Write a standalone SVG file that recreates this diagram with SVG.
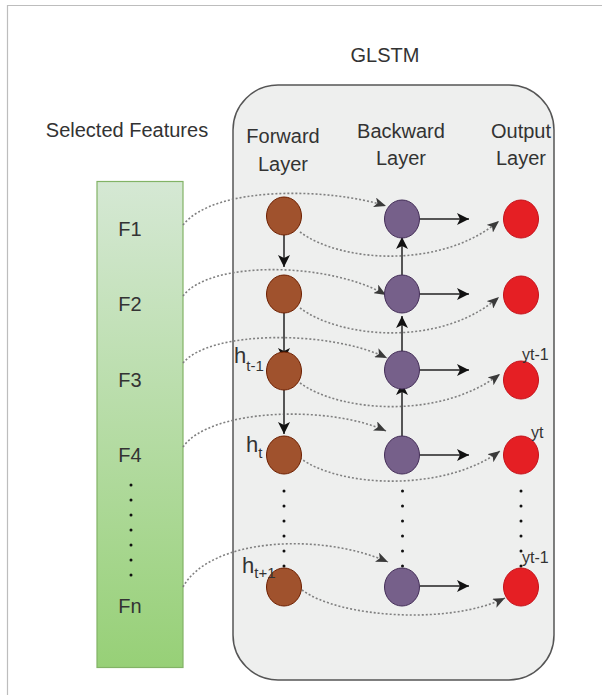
<svg xmlns="http://www.w3.org/2000/svg" width="602" height="695" viewBox="0 0 602 695">
<style>
text{font-family:"Liberation Sans",Arial,sans-serif;fill:#333;}
.t20{font-size:20px;text-anchor:middle;}
.fw{fill:#a0522d;stroke:#6d1f00;stroke-width:1;}
.bw{fill:#76608a;stroke:#432d57;stroke-width:1;}
.out{fill:#e51f24;stroke:#c4121a;stroke-width:1;}
.dotc{fill:none;stroke:#808080;stroke-width:1.6;stroke-dasharray:2 2;marker-end:url(#ah2);}
.sol{fill:none;stroke:#555;stroke-width:2;marker-end:url(#ah1);}
.vdots{stroke:#111;stroke-width:3;stroke-linecap:round;stroke-dasharray:0 15;fill:none;}
</style>
<defs>
<linearGradient id="gg" x1="0" y1="0" x2="0" y2="1">
<stop offset="0" stop-color="#d5e8d4"/>
<stop offset="1" stop-color="#97d077"/>
</linearGradient>
<marker id="ah1" viewBox="0 0 12 12" refX="12" refY="6" markerWidth="12" markerHeight="12" markerUnits="userSpaceOnUse" orient="auto">
<path d="M0,0 L12,6 L0,12 L3,6 Z" fill="#111"/>
</marker>
<marker id="ah2" viewBox="0 0 12 10" refX="12" refY="5" markerWidth="12" markerHeight="10" markerUnits="userSpaceOnUse" orient="auto">
<path d="M0,0 L12,5 L0,10 L3,5 Z" fill="#3a3a3a"/>
</marker>
</defs>

<g id="frame">
<line x1="7" y1="5.5" x2="602" y2="5.5" stroke="#bdbdbd" stroke-width="1.2"/>
<line x1="7.5" y1="5" x2="7.5" y2="695" stroke="#bdbdbd" stroke-width="1.2"/>
</g>

<g id="title">
<text class="t20" x="385" y="62">GLSTM</text>
</g>

<g id="glstm-box">
<rect x="233" y="85" width="321" height="595" rx="45" ry="45" fill="#eeefee" stroke="#555" stroke-width="1.5"/>
<text class="t20" x="283" y="143">Forward</text>
<text class="t20" x="283" y="171">Layer</text>
<text class="t20" x="401" y="138">Backward</text>
<text class="t20" x="401" y="165">Layer</text>
<text class="t20" x="521" y="138">Output</text>
<text class="t20" x="521" y="165">Layer</text>
</g>

<g id="features">
<text class="t20" x="127" y="137">Selected Features</text>
<rect x="97" y="181.5" width="86" height="486" fill="url(#gg)" stroke="#82b366" stroke-width="1.2"/>
<text class="t20" x="130" y="236">F1</text>
<text class="t20" x="130" y="311">F2</text>
<text class="t20" x="130" y="387">F3</text>
<text class="t20" x="130" y="462">F4</text>
<line class="vdots" x1="131" y1="485" x2="131" y2="576"/>
<text class="t20" x="130" y="613">Fn</text>
</g>

<g id="connectors">
<!-- features to backward layer -->
<path class="dotc" d="M183,225 C215,185 330,188 386,206"/>
<path class="dotc" d="M183,296 C210,260 330,262 386,295"/>
<path class="dotc" d="M183,363 C210,330 330,330 387,358"/>
<path class="dotc" d="M183,447 C210,408 330,405 386,431"/>
<path class="dotc" d="M183,587 C210,538 320,532 388,562"/>
<!-- forward to output -->
<path class="dotc" d="M300,232 C340,262 440,270 499,221"/>
<path class="dotc" d="M300,308 C340,338 440,348 499,297"/>
<path class="dotc" d="M300,383 C340,412 440,420 500,374"/>
<path class="dotc" d="M300,458 C340,488 445,492 500,451"/>
<path class="dotc" d="M302,590 C340,618 450,625 505,598"/>
<!-- forward chain -->
<line x1="284" y1="235" x2="284" y2="267" stroke="#222" stroke-width="1.5" marker-end="url(#ah1)"/>
<line class="sol" x1="284" y1="313" x2="284" y2="360"/>
<line class="sol" x1="284" y1="390" x2="284" y2="434"/>
<!-- backward chain -->
<line class="sol" x1="402" y1="275" x2="402" y2="237"/>
<line class="sol" x1="402" y1="352" x2="402" y2="316"/>
<line class="sol" x1="402" y1="436" x2="402" y2="383"/>
<!-- backward to right -->
<line class="sol" x1="420" y1="219" x2="469" y2="219"/>
<line class="sol" x1="420" y1="294" x2="469" y2="294"/>
<line class="sol" x1="420" y1="370" x2="469" y2="370"/>
<line class="sol" x1="420" y1="455" x2="469" y2="455"/>
<line class="sol" x1="420" y1="586" x2="469" y2="586"/>
<!-- continuation dots -->
<line class="vdots" x1="284" y1="491" x2="284" y2="567"/>
<line class="vdots" x1="402.5" y1="491" x2="402.5" y2="567"/>
<line class="vdots" x1="521" y1="491" x2="521" y2="567"/>
</g>

<g id="f1"><ellipse class="fw" cx="284" cy="216" rx="17.5" ry="19"/></g>
<g id="f2"><ellipse class="fw" cx="284" cy="294" rx="17.5" ry="19"/></g>
<g id="f3"><ellipse class="fw" cx="284" cy="371" rx="17.5" ry="19"/></g>
<g id="f4"><ellipse class="fw" cx="284" cy="455" rx="17.5" ry="19"/></g>
<g id="f5"><ellipse class="fw" cx="284" cy="587" rx="17.5" ry="19"/></g>

<g id="b1"><ellipse class="bw" cx="402" cy="219" rx="17.5" ry="19"/></g>
<g id="b2"><ellipse class="bw" cx="402" cy="294" rx="17.5" ry="19"/></g>
<g id="b3"><ellipse class="bw" cx="402" cy="370" rx="17.5" ry="19"/></g>
<g id="b4"><ellipse class="bw" cx="402" cy="455" rx="17.5" ry="19"/></g>
<g id="b5"><ellipse class="bw" cx="402" cy="587" rx="17.5" ry="19"/></g>

<g id="o1"><ellipse class="out" cx="521" cy="219" rx="17.5" ry="19"/></g>
<g id="o2"><ellipse class="out" cx="521" cy="295" rx="17.5" ry="19"/></g>
<g id="o3"><ellipse class="out" cx="521" cy="380" rx="17.5" ry="19"/></g>
<g id="o4"><ellipse class="out" cx="521" cy="455" rx="17.5" ry="19"/></g>
<g id="o5"><ellipse class="out" cx="521" cy="587" rx="17.5" ry="19"/></g>

<g id="labels">
<text x="234" y="363" font-size="22">h<tspan font-size="15" dy="8">t-1</tspan></text>
<text x="246" y="452" font-size="22">h<tspan font-size="15" dy="6">t</tspan></text>
<text x="242" y="573" font-size="22">h<tspan font-size="15" dy="5">t+1</tspan></text>
<text x="522" y="360" font-size="16">yt-1</text>
<text x="531" y="438" font-size="16">yt</text>
<text x="522" y="563" font-size="16">yt-1</text>
</g>
</svg>
